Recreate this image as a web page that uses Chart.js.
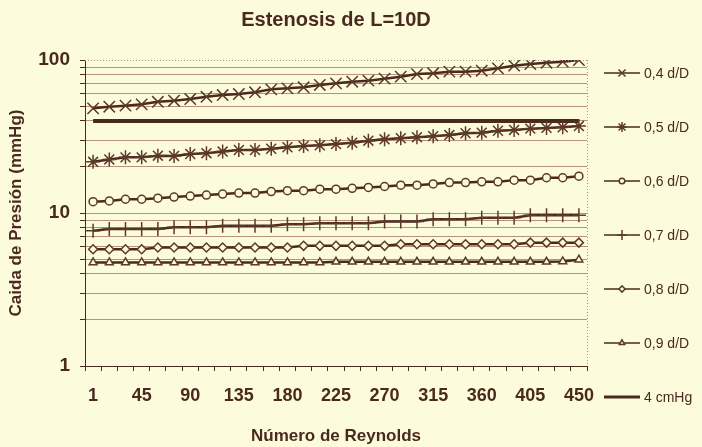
<!DOCTYPE html>
<html>
<head>
<meta charset="utf-8">
<script src="https://cdn.jsdelivr.net/npm/chart.js@4.4.1/dist/chart.umd.min.js"></script>
<style>
  html, body { margin: 0; padding: 0; background: #fcfcdc; }
  #wrap { width: 702px; height: 447px; }
</style>
</head>
<body>
<div id="wrap"><canvas id="chart" width="702" height="447"></canvas></div>
<script>
// Número de Reynolds (categorías)
const categories = [1, 15, 30, 45, 60, 75, 90, 105, 120, 135, 150, 165, 180, 195, 210, 225,
  240, 255, 270, 285, 300, 315, 330, 345, 360, 375, 390, 405, 420, 435, 450];
const xLabels = ['1', '45', '90', '135', '180', '225', '270', '315', '360', '405', '450'];

// Caida de presión (mmHg) para cada estenosis
const d04 = [48.3, 49.5, 50.3, 51.3, 53.3, 54.2, 55.6, 57.5, 59.0, 59.9, 61.5, 64.3, 65.3, 66.3, 68.7, 70.4,
  72.1, 73.3, 75.5, 77.8, 80.9, 81.9, 83.9, 83.9, 85.1, 88.2, 91.8, 94.1, 96.0, 97.5, 100];
const d05 = [21.6, 22.4, 23.1, 23.1, 23.7, 23.6, 24.3, 24.6, 25.2, 25.8, 25.8, 26.3, 26.9, 27.4, 27.7, 28.2,
  28.8, 29.7, 30.3, 30.8, 31.3, 31.8, 32.3, 33.2, 33.5, 34.5, 34.9, 35.6, 36.0, 36.3, 37.0];
const d06 = [11.85, 12.0, 12.3, 12.3, 12.5, 12.7, 12.9, 13.1, 13.3, 13.5, 13.5, 13.8, 14.0, 14.0, 14.3, 14.3,
  14.5, 14.7, 14.9, 15.2, 15.2, 15.5, 15.8, 15.8, 16.0, 16.0, 16.4, 16.4, 17.0, 17.0, 17.4];
const d07 = [7.66, 7.85, 7.85, 7.85, 7.85, 8.07, 8.07, 8.07, 8.26, 8.26, 8.26, 8.26, 8.44, 8.44, 8.57, 8.57,
  8.57, 8.57, 8.8, 8.8, 8.8, 9.1, 9.1, 9.1, 9.3, 9.3, 9.3, 9.65, 9.65, 9.65, 9.65];
const d08 = [5.8, 5.8, 5.8, 5.8, 5.95, 5.95, 5.95, 5.95, 5.95, 5.95, 5.95, 5.95, 5.95, 6.1, 6.1, 6.1,
  6.1, 6.1, 6.1, 6.25, 6.25, 6.25, 6.25, 6.25, 6.25, 6.25, 6.25, 6.4, 6.4, 6.4, 6.4];
const d09 = [4.75, 4.75, 4.75, 4.75, 4.75, 4.75, 4.75, 4.75, 4.75, 4.75, 4.75, 4.75, 4.75, 4.75, 4.75, 4.8,
  4.8, 4.8, 4.8, 4.8, 4.8, 4.8, 4.8, 4.8, 4.8, 4.8, 4.8, 4.8, 4.8, 4.82, 4.95];
const d4cm = [40, 40, 40, 40, 40, 40, 40, 40, 40, 40, 40, 40, 40, 40, 40, 40,
  40, 40, 40, 40, 40, 40, 40, 40, 40, 40, 40, 40, 40, 40, 40];

const yTicks = [1, 2, 3, 4, 5, 6, 7, 8, 9, 10, 20, 30, 40, 50, 60, 70, 80, 90, 100];
const yLabels = [1, 10, 100];

const BG = '#fcfcdc';
const INK = '#4a2a1e';
const MARK = '#5e3828';
const FONT = "'Liberation Sans', Arial, sans-serif";

function serie(label, data, style, radius) {
  return {
    label: label,
    data: data,
    borderColor: INK,
    borderWidth: 2.5,
    pointStyle: style,
    pointRadius: radius,
    pointBorderColor: MARK,
    pointBackgroundColor: BG,
    pointBorderWidth: 1.5,
    tension: 0
  };
}

const datasets = [
  serie('0,4 d/D', d04, 'crossRot', 8),
  serie('0,5 d/D', d05, 'star', 7),
  serie('0,6 d/D', d06, 'circle', 4),
  serie('0,7 d/D', d07, 'cross', 7),
  serie('0,8 d/D', d08, 'rectRot', 4.5),
  serie('0,9 d/D', d09, 'triangle', 4.5),
  { label: '4 cmHg', data: d4cm, borderColor: INK, borderWidth: 4, pointRadius: 0, tension: 0 }
];

// fondo, borde punteado y leyenda a la derecha
const extras = {
  id: 'extras',
  beforeDraw(chart) {
    const ctx = chart.ctx;
    ctx.save();
    ctx.fillStyle = BG;
    ctx.fillRect(0, 0, chart.width, chart.height);
    ctx.restore();
  },
  afterDraw(chart) {
    const ctx = chart.ctx;
    const a = chart.chartArea;
    ctx.save();
    ctx.strokeStyle = '#a09a90';
    ctx.lineWidth = 1;
    ctx.setLineDash([1, 2]);
    ctx.beginPath();
    ctx.moveTo(a.left, a.top + 0.5);
    ctx.lineTo(a.right, a.top + 0.5);
    ctx.moveTo(a.right + 0.5, a.top);
    ctx.lineTo(a.right + 0.5, a.bottom);
    ctx.stroke();
    ctx.setLineDash([]);

    const x0 = 604, x1 = 640;
    chart.data.datasets.forEach((ds, i) => {
      const y = 73 + i * 54;
      ctx.strokeStyle = INK;
      ctx.lineWidth = ds.borderWidth === 4 ? 3 : 1.5;
      ctx.beginPath();
      ctx.moveTo(x0, y);
      ctx.lineTo(x1, y);
      ctx.stroke();
      if (ds.pointRadius > 0 && Chart.helpers && Chart.helpers.drawPoint) {
        ctx.strokeStyle = MARK;
        ctx.fillStyle = BG;
        Chart.helpers.drawPoint(ctx, {
          pointStyle: ds.pointStyle,
          radius: Math.min(ds.pointRadius * 0.7, 5),
          rotation: 0,
          borderWidth: 1.2
        }, (x0 + x1) / 2, y);
      }
      ctx.fillStyle = INK;
      ctx.font = '14px ' + FONT;
      ctx.textBaseline = 'middle';
      ctx.textAlign = 'left';
      ctx.fillText(ds.label, x1 + 4, y + 1);
    });
    ctx.restore();
  }
};

new Chart(document.getElementById('chart'), {
  type: 'line',
  data: { labels: categories, datasets: datasets },
  plugins: [extras],
  options: {
    responsive: false,
    animation: false,
    layout: { padding: { left: 0, right: 115, top: 0, bottom: 0 } },
    plugins: {
      legend: { display: false },
      tooltip: { enabled: false },
      title: {
        display: true,
        text: 'Estenosis de L=10D',
        fullSize: false,
        color: INK,
        font: { family: FONT, size: 20, weight: 'bold' },
        padding: { top: 8, bottom: 28 }
      }
    },
    scales: {
      x: {
        type: 'category',
        offset: true,
        afterFit(scale) { scale.height = 81; },
        grid: {
          offset: true,
          drawOnChartArea: false,
          drawTicks: true,
          tickLength: 5,
          tickColor: INK,
          color: INK
        },
        border: { color: INK, width: 1 },
        ticks: {
          autoSkip: false,
          maxRotation: 0,
          padding: 14,
          color: INK,
          font: { family: FONT, size: 18, weight: 'bold' },
          callback: (v, i) => (i % 3 === 0 ? xLabels[i / 3] : '')
        },
        title: {
          display: true,
          text: 'Número de Reynolds',
          color: INK,
          font: { family: FONT, size: 17, weight: 'bold' },
          padding: { top: 0, bottom: 0 }
        }
      },
      y: {
        type: 'logarithmic',
        min: 1,
        max: 100,
        afterFit(scale) { scale.width = 85; },
        afterBuildTicks(scale) { scale.ticks = yTicks.map(v => ({ value: v })); },
        grid: {
          color: ctx => (ctx.tick && ctx.tick.value === 100 ? 'rgba(0,0,0,0)' : '#b8907e'),
          lineWidth: 1,
          tickLength: 5,
          tickColor: INK
        },
        border: { color: INK, width: 1 },
        ticks: {
          autoSkip: false,
          padding: 10,
          color: INK,
          font: { family: FONT, size: 19, weight: 'bold' },
          callback: v => (yLabels.includes(v) ? String(v) : '')
        },
        title: {
          display: true,
          text: 'Caida de Presión (mmHg)',
          color: INK,
          font: { family: FONT, size: 17, weight: 'bold' },
          padding: { top: 6, bottom: 0 }
        }
      }
    }
  }
});
</script>
</body>
</html>
